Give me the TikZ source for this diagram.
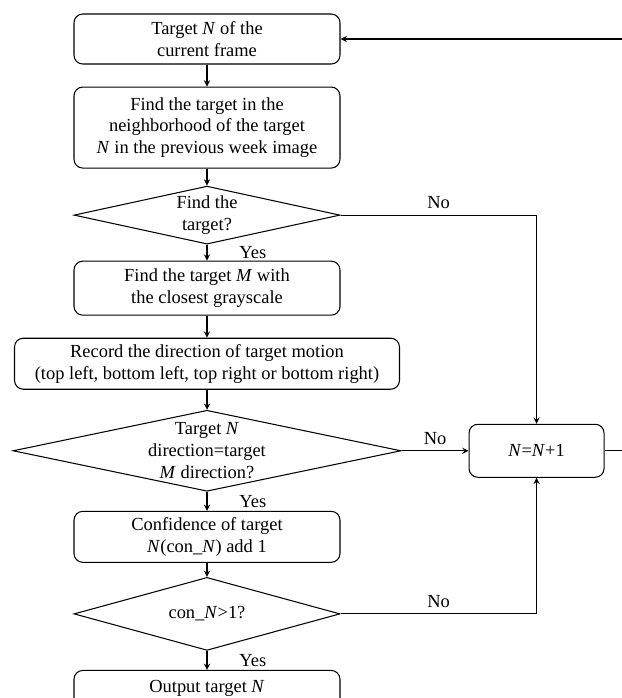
\documentclass[tikz,border=0pt]{standalone}
\usepackage{fontspec}
\setmainfont{Liberation Serif}
\usetikzlibrary{shapes.geometric, arrows, positioning}
\tikzstyle{process} = [rectangle, rounded corners=5pt, minimum width=5.32cm, inner sep=2pt, text centered, align=center, draw=black, semithick]
\tikzstyle{decision} = [diamond, aspect=4.59, minimum width=5.32cm, inner sep=0pt, text centered, align=center, draw=black, semithick]
\tikzstyle{arrow} = [semithick,->,>=stealth]
\tikzstyle{yes} = [anchor=west, xshift=0.52cm]

\begin{document}
\begin{tikzpicture}[node distance=0.38cm, font=\fontsize{10.5}{12.5}\selectfont]
    \useasboundingbox (0,0) rectangle (12.44,-13.96);

    \node (target) [process, minimum height=1cm] at (4.14,-0.78) {Target \textit{N} of the\\current frame};
    \node (search) [process, below=0.44cm of target, minimum height=1.62cm] {Find the target in the\\neighborhood of the target\\\textit{N} in the previous week image};
    \node (found) [decision, below=0.34cm of search, minimum height=1.16cm] {Find the\\target?};
    \node (closest) [process, below=0.32cm of found, minimum height=1.08cm] {Find the target \textit{M} with\\the closest grayscale};
    \node (record) [process, below=0.44cm of closest, minimum width=7.7cm, minimum height=1.02cm] {Record the direction of target motion\\(top left, bottom left, top right or bottom right)};
    \node (samedir) [decision, below=0.40cm of record, aspect=4.79, minimum width=7.76cm, minimum height=1.62cm, inner ysep=-5pt] {Target \textit{N}\\direction=target\\\textit{M} direction?};
    \node (confidence) [process, below=0.38cm of samedir, minimum height=1.02cm] {Confidence of target\\\textit{N}(con\_\textit{N}) add 1};
    \node (enough) [decision, below=0.28cm of confidence, aspect=3.64, minimum height=1.46cm] {con\_\textit{N}>1?};
    \node (output) [process, below=0.38cm of enough, minimum height=0.72cm] {Output target \textit{N}};

    \node (increment) [process, right=1.34cm of samedir, minimum width=2.7cm, minimum height=1.06cm] {\textit{N}=\textit{N}+1};

    \draw [arrow] (target) -- (search);
    \draw [arrow] (search) -- (found);
    \draw [arrow] (found) -- node[yes] {Yes} (closest);
    \draw [arrow] (closest) -- (record);
    \draw [arrow] (record) -- (samedir);
    \draw [arrow] (samedir) -- node[yes] {Yes} (confidence);
    \draw [arrow] (confidence) -- (enough);
    \draw [arrow] (enough) -- node[yes] {Yes} (output);

    \draw [arrow] (found.east) -| node[above, pos=0.25] {No} (increment.north);
    \draw [arrow] (samedir.east) -- node[above] {No} (increment.west);
    \draw [arrow] (enough.east) -| node[above, pos=0.25] {No} (increment.south);

    \draw [arrow] (increment.east) -- ++(0.38,0) |- (target.east);
\end{tikzpicture}
\end{document}
